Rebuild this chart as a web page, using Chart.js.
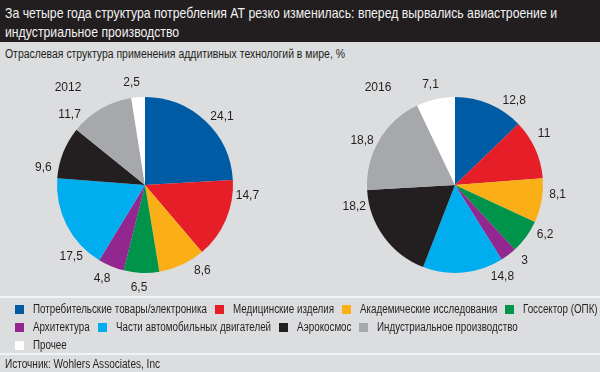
<!DOCTYPE html>
<html><head><meta charset="utf-8">
<script src="https://cdn.jsdelivr.net/npm/chart.js@4.4.1/dist/chart.umd.min.js"></script>
<style>
html,body{margin:0;padding:0;}
body{width:600px;height:372px;background:#dcdddf;position:relative;overflow:hidden;font-family:'Liberation Sans',Arial,sans-serif;color:#231f20;}
#hdr{position:absolute;left:0;top:0;width:600px;height:42px;background:#221e1f;color:#f2f2f2;font-size:15px;line-height:19px;padding:3px 0 0 5px;box-sizing:border-box;white-space:nowrap;}
#sub{position:absolute;left:5px;top:47px;font-size:12.5px;white-space:nowrap;}
canvas{position:absolute;}
#c1{left:0;top:70px}
#c2{left:310px;top:70px}
.sep{position:absolute;left:0;width:600px;height:2px;background:#f2f3f4;}
#legend{position:absolute;left:15px;top:300px;font-size:12.5px;white-space:nowrap;}
.row{display:flex;height:18px;align-items:center;}
.item{display:flex;align-items:center;margin-right:8px;}
.sw{width:9px;height:9px;margin-right:9px;flex:none;}
#src{position:absolute;left:5px;top:357px;font-size:12px;white-space:nowrap;}
.cx{display:inline-block;transform-origin:0 50%;}
</style>
</head><body>
<div id="hdr"></div>
<div id="sub"></div>
<canvas id="c1" width="290" height="230"></canvas>
<canvas id="c2" width="290" height="230"></canvas>
<div class="sep" style="top:296px"></div>
<div id="legend"></div>
<div class="sep" style="top:353px"></div>
<div id="src"></div>
<script>
const titleLines = ['За четыре года структура потребления АТ резко изменилась: вперед вырвались авиастроение и', 'индустриальное производство'];
const subtitle = 'Отраслевая структура применения аддитивных технологий в мире, %';
const source = 'Источник: Wohlers Associates, Inc';
const categories = ['Потребительские товары/электроника','Медицинские изделия','Академические исследования','Госсектор (ОПК)','Архитектура','Части автомобильных двигателей','Аэрокосмос','Индустриальное производство','Прочее'];
const colors = ['#005ba5','#e61e28','#fbaf17','#00944a','#92278f','#00adef','#231f20','#a6a8ab','#ffffff'];
const years = ['2012','2016'];
const values2012 = [24.1,14.7,8.6,6.5,4.8,17.5,9.6,11.7,2.5];
const values2016 = [12.8,11,8.1,6.2,3,14.8,18.2,18.8,7.1];
const legendRows = [[0,1,2,3],[4,5,6,7],[8]];
// label angle shifts (degrees) used only for placing value annotations
const labelShift2012 = [5,-17,-9,1,2,-17,-12,-17,-3];
const labelShift2016 = [12,-6,-5,-7,-5,-22,24,-5,-1];

function cspan(text){ const s=document.createElement('span'); s.className='cx'; s.textContent=text; return s; }
function condense(s,k){ const w=s.getBoundingClientRect().width; s.style.transform='scaleX('+k+')'; s.style.marginRight=(-w*(1-k))+'px'; }

const hdr=document.getElementById('hdr');
const hs=titleLines.map((t,i)=>{ const s=cspan(t); hdr.appendChild(s); if(i<titleLines.length-1) hdr.appendChild(document.createElement('br')); return s; });
const sub=cspan(subtitle); document.getElementById('sub').appendChild(sub);
const src=cspan(source); document.getElementById('src').appendChild(src);
const lg=document.getElementById('legend');
const ls=[];
legendRows.forEach(r=>{
  const row=document.createElement('div'); row.className='row';
  r.forEach(i=>{
    const it=document.createElement('div'); it.className='item';
    const sw=document.createElement('span'); sw.className='sw'; sw.style.background=colors[i];
    const t=cspan(categories[i]); ls.push(t);
    it.appendChild(sw); it.appendChild(t); row.appendChild(it);
  });
  lg.appendChild(row);
});
const kT = 552/hs[0].getBoundingClientRect().width;
hs.forEach(s=>condense(s,kT));
condense(sub, 340/sub.getBoundingClientRect().width);
condense(src, 155/src.getBoundingClientRect().width);
let row1W=0; legendRows[0].forEach((_,j)=>{ row1W+=ls[j].getBoundingClientRect().width; });
const kL = 487/row1W;
ls.forEach(s=>condense(s,kL));

const fmt = v => String(v).replace('.', ',');
const outLabels = {
  id:'outLabels',
  afterDatasetsDraw(chart, args, opts){
    const ctx=chart.ctx; const meta=chart.getDatasetMeta(0);
    const ds=chart.data.datasets[0];
    ctx.save();
    ctx.font=opts.font; ctx.fillStyle=opts.color; ctx.textAlign='center'; ctx.textBaseline='middle';
    meta.data.forEach((arc,i)=>{
      const p=arc.getProps(['x','y','startAngle','endAngle','outerRadius'],true);
      const a=(p.startAngle+p.endAngle)/2+(opts.shift[i]||0)*Math.PI/180;
      const d=p.outerRadius+opts.offset;
      ctx.fillText(fmt(ds.data[i]), p.x+Math.cos(a)*d, p.y+Math.sin(a)*d);
    });
    const p0=meta.data[0];
    ctx.fillText(opts.year, p0.x+opts.yearDx, p0.y+opts.yearDy);
    ctx.restore();
  }
};
function makePie(id, values, year, shift){
  return new Chart(document.getElementById(id), {
    type:'pie',
    data:{labels:categories, datasets:[{data:values, backgroundColor:colors, borderWidth:0, hoverOffset:0}]},
    options:{
      responsive:false, animation:false, devicePixelRatio:1,
      layout:{padding:27},
      plugins:{legend:{display:false}, tooltip:{enabled:false},
        outLabels:{font:'12px "Liberation Sans", Arial, sans-serif', color:'#231f20', offset:15, shift:shift, year:year, yearDx:-77, yearDy:-97}}
    },
    plugins:[outLabels]
  });
}
makePie('c1', values2012, years[0], labelShift2012);
makePie('c2', values2016, years[1], labelShift2016);
</script>
</body></html>
